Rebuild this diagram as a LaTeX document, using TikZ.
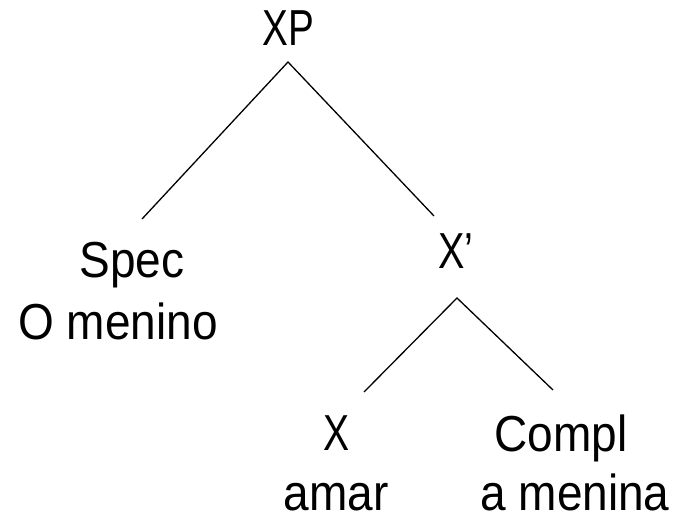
\documentclass[tikz,border=0pt]{standalone}
\usepackage{fontspec}
\setmainfont{Liberation Sans}
\newcommand{\lbltext}[2][1]{\scalebox{#1}[1.1]{#2}}
\begin{document}
\begin{tikzpicture}[x=1pt,y=-1pt,
  lbl/.style={anchor=base,inner sep=0pt,font=\fontsize{46}{55}\selectfont},
  branch/.style={line width=1.3pt,black}]
\useasboundingbox (0,0) rectangle (676,522);
% labels
\node[lbl] (xp) at (288,45) {\lbltext[0.84]{XP}};
\node[lbl] (spec) at (132,277) {\lbltext{Spec}};
\node[lbl] (omenino) at (118,339) {\lbltext{O menino}};
\node[lbl] (xbar) at (456,268) {\lbltext[0.86]{X’}};
\node[lbl] (x) at (337,450) {\lbltext[0.85]{X}};
\node[lbl] (amar) at (336,510) {\lbltext{amar}};
\node[lbl] (compl) at (561,451) {\lbltext{Compl}};
\node[lbl] (amenina) at (575,510) {\lbltext{a menina}};
% branch points
\coordinate (xpTop) at (288,62);
\coordinate (specEnd) at (142,219);
\coordinate (xbarEnd) at (434,216);
\coordinate (xbarTop) at (457,298);
\coordinate (xEnd) at (364,392);
\coordinate (complEnd) at (553,390);
\draw[branch] (specEnd) -- (xpTop) -- (xbarEnd);
\draw[branch] (xEnd) -- (xbarTop) -- (complEnd);
\end{tikzpicture}
\end{document}
